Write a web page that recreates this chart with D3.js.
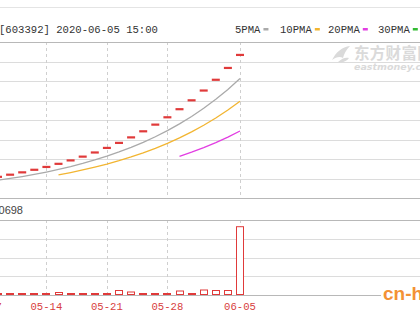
<!DOCTYPE html>
<html><head><meta charset="utf-8">
<script src="https://cdn.jsdelivr.net/npm/d3@7"></script>
<style>html,body{margin:0;padding:0;background:#fff;overflow:hidden}svg{display:block}</style>
</head><body>
<script>
// ---- data ----
const dates = ["04-29","04-30","05-06","05-07","05-08","05-11","05-12","05-13","05-14","05-15","05-18","05-19","05-20","05-21","05-22","05-25","05-26","05-27","05-28","05-29","06-01","06-02","06-03","06-04","06-05"];
const closes = [12.60,13.86,15.25,16.77,18.45,20.30,22.33,24.56,27.02,29.72,32.69,35.96,39.56,43.52,47.87,52.66,57.93,63.72,70.09,77.10,84.81,93.29,102.62,112.88,124.17];
const ma5 = [null,null,null,null,15.39,16.93,18.62,20.48,22.53,24.79,27.26,29.99,32.99,36.29,39.92,43.91,48.31,53.14,58.45,64.30,70.73,77.80,85.58,94.14,103.55];
const ma10 = [null,null,null,null,null,null,null,null,null,20.09,22.10,24.31,26.74,29.41,32.35,35.59,39.15,43.07,47.37,52.11,57.32,63.06,69.36,76.30,83.93];
const ma20 = [null,null,null,null,null,null,null,null,null,null,null,null,null,null,null,null,null,null,null,36.10,39.71,43.68,48.05,52.85,58.14];
const volumes = [30000,30000,30000,30000,32000,32000,32000,32000,32000,48000,32000,32000,32000,32000,80000,56000,32000,32000,32000,72000,16000,88000,80000,80000,1100698];
const tickDates = ["05-07","05-14","05-21","05-28","06-05"];
const header = "[603392] 2020-06-05 15:00";
const legendNames = ["5PMA","10PMA","20PMA","30PMA"];
const legendColors = ["#aaaaaa","#f2b531","#e23ee2","#33bb33"];

// ---- layout ----
const W = 420, H = 315;
const svg = d3.select("body").append("svg").attr("width", W).attr("height", H);
const idx = d3.range(dates.length);
const x = d3.scaleLinear().domain([0, dates.length - 1]).range([-50.4, 240]);
const y = d3.scaleLinear().domain([0, 135.3]).range([198, 42]);
const yv = d3.scaleLinear().domain([0, 1200000]).range([295, 220]);
const red = "#e03a3a";

// top border
svg.append("line").attr("x1",0).attr("x2",W).attr("y1",7.5).attr("y2",7.5).attr("stroke","#e4e4e4");

// price grid (8 equal divisions)
const pTicks = d3.range(1, 8).map(k => y.domain()[1] * k / 8);
svg.append("g").selectAll("line").data(pTicks).join("line")
  .attr("x1",0).attr("x2",W).attr("y1",d=>Math.round(y(d))+0.5).attr("y2",d=>Math.round(y(d))+0.5)
  .attr("stroke","#dcdcdc");
// volume grid
const vTicks = d3.range(1, 4).map(k => yv.domain()[1] * k / 4);
svg.append("g").selectAll("line").data(vTicks).join("line")
  .attr("x1",0).attr("x2",W).attr("y1",d=>Math.round(yv(d))+0.5).attr("y2",d=>Math.round(yv(d))+0.5)
  .attr("stroke","#dcdcdc");

// vertical dashed lines at tick dates
const tickIdx = tickDates.map(d => dates.indexOf(d));
const vg = svg.append("g");
tickIdx.forEach(i => {
  const xx = Math.round(x(i)) + 0.5;
  vg.append("line").attr("x1",xx).attr("x2",xx).attr("y1",42).attr("y2",198)
    .attr("stroke","#cfcfcf").attr("stroke-dasharray","3,3");
  vg.append("line").attr("x1",xx).attr("x2",xx).attr("y1",220).attr("y2",295)
    .attr("stroke","#cfcfcf").attr("stroke-dasharray","3,3");
});

// panel borders
[42, 198, 220, 295].forEach(v => {
  svg.append("line").attr("x1",0).attr("x2",W).attr("y1",v+0.5).attr("y2",v+0.5).attr("stroke","#b8b8b8");
});

// watermark eastmoney
const wm = svg.append("g").attr("fill","#dadada");
wm.append("path").attr("d","M332,60 C336,52 342,47 350,46 C346,50 344,54 343,58 C340,56 336,57 332,60 Z M338,62 C342,58 346,57 349,58 C347,61 343,63 338,62 Z");
wm.append("text").attr("x",354).attr("y",59).attr("font-family","Noto Sans CJK SC").attr("font-size",15.5).attr("font-weight","bold").attr("letter-spacing",0.3).text("东方财富网");
wm.append("text").attr("x",354).attr("y",70).attr("font-family","DejaVu Sans").attr("font-size",9.5).attr("font-weight","bold").attr("font-style","italic").text("eastmoney.com");

// header text
svg.append("text").attr("x",-1).attr("y",33).attr("font-family","Liberation Mono, monospace")
  .attr("font-size",10.6).attr("fill","#333").text(header);

// legend
const lg = svg.append("g");
const legX = [235, 280, 328, 378];
legendNames.forEach((n, i) => {
  lg.append("text").attr("x",legX[i]).attr("y",33).attr("font-family","Liberation Mono, monospace")
    .attr("font-size",10.6).attr("fill","#333").text(n);
  const tx = legX[i] + n.length * 6.36 + 3;
  lg.append("rect").attr("x",tx).attr("y",28).attr("width",5).attr("height",2.5).attr("fill",legendColors[i]);
});

// MA lines
const mkLine = arr => d3.line().defined(i => arr[i] != null).x(i => x(i)).y(i => y(arr[i]));
[[ma5,legendColors[0]],[ma10,legendColors[1]],[ma20,legendColors[2]]].forEach(([arr,c]) => {
  svg.append("path").attr("d", mkLine(arr)(idx)).attr("fill","none").attr("stroke",c).attr("stroke-width",1.3);
});

// candles (one-price limit-up dashes)
svg.append("g").selectAll("rect").data(idx).join("rect")
  .attr("x", i => x(i) - 4).attr("y", i => y(closes[i]) - 1).attr("width", 8).attr("height", 2.2)
  .attr("fill", red);

// volume bars (hollow red)
svg.append("g").selectAll("rect").data(idx).join("rect")
  .attr("x", i => Math.round(x(i) - 4) + 0.5).attr("y", i => Math.min(yv(volumes[i]), 293) + 0.5)
  .attr("width", 7).attr("height", i => Math.max(295 - yv(volumes[i]), 2) - 1)
  .attr("fill", "#fff").attr("stroke", red).attr("stroke-width", 1);

// volume label
svg.append("text").attr("x",23).attr("y",214).attr("text-anchor","end")
  .attr("font-family","Liberation Sans, Arial").attr("font-size",11).attr("fill","#444")
  .text(d3.format("d")(volumes[volumes.length-1]));

// date labels
svg.append("g").selectAll("text").data(tickIdx).join("text")
  .attr("x", i => x(i)).attr("y", 310).attr("text-anchor","middle")
  .attr("font-family","Liberation Mono, monospace").attr("font-size",10.6).attr("fill","#d84040")
  .text(i => dates[i]);

// cn-healthcare watermark
svg.append("rect").attr("x",381).attr("y",283).attr("width",40).attr("height",22).attr("fill","#fff");
svg.append("text").attr("x",383).attr("y",300).attr("font-family","Liberation Sans, Arial")
  .attr("font-size",19).attr("font-weight","bold").attr("fill","#f39235").text("cn-healthcare");
</script>
</body></html>
